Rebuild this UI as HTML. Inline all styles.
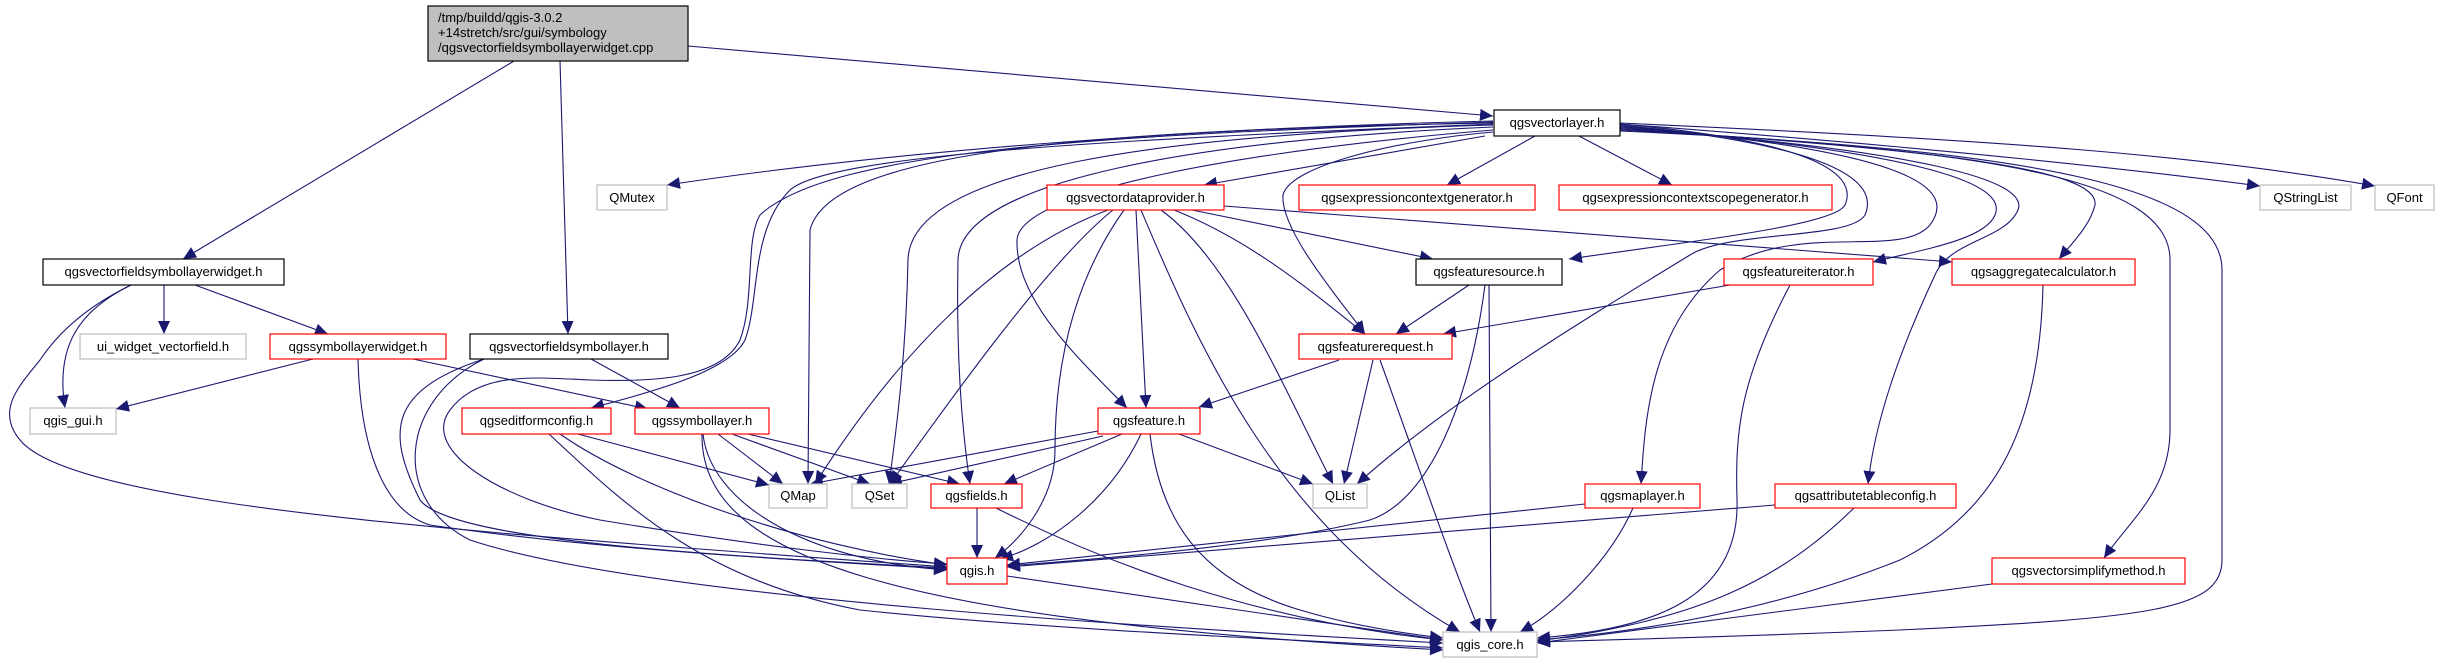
<!DOCTYPE html>
<html><head><meta charset="utf-8"><style>
html,body{margin:0;padding:0;background:#fff;}
svg{display:block;}
text{font-family:"Liberation Sans","DejaVu Sans",sans-serif;font-size:13px;fill:#000;}
.e{fill:none;stroke:#191970;stroke-width:1.1;marker-end:url(#a);}
</style></head><body>
<svg width="2446" height="664" viewBox="0 0 2446 664" xmlns="http://www.w3.org/2000/svg">
<defs><marker id="a" markerUnits="userSpaceOnUse" markerWidth="16" markerHeight="14" refX="13" refY="6" orient="auto"><path d="M0,0 L13,6 L0,12 Z" fill="#191970"/></marker></defs>
<rect width="2446" height="664" fill="#fff"/>
<g>
<path class="e" d="M514,61 L183,259"/>
<path class="e" d="M560,61 L568,334"/>
<path class="e" d="M688,46 L1493,116"/>
<path class="e" d="M164,285 L164,334"/>
<path class="e" d="M195,285 L328,334"/>
<path class="e" d="M131,285 C80,310 55,345 65,408"/>
<path class="e" d="M131,285 C90,305 60,330 40,360 C20,385 -5,410 20,440 C60,490 300,515 500,533 C700,550 850,560 947,567"/>
<path class="e" d="M313,359 L116,409"/>
<path class="e" d="M413,359 L648,409"/>
<path class="e" d="M358,359 C360,440 380,510 430,525 C600,550 800,560 947,569"/>
<path class="e" d="M591,359 L680,408"/>
<path class="e" d="M484,359 C390,390 385,430 420,500 C450,540 700,555 947,568"/>
<path class="e" d="M484,359 C400,400 390,500 470,540 C650,600 1200,630 1443,643"/>
<path class="e" d="M578,434 L769,485"/>
<path class="e" d="M560,434 C640,490 800,545 947,565"/>
<path class="e" d="M549,434 C620,500 700,580 860,610 C1050,630 1300,640 1443,648"/>
<path class="e" d="M718,434 L783,484"/>
<path class="e" d="M732,434 L870,484"/>
<path class="e" d="M748,434 L960,484"/>
<path class="e" d="M703,434 C710,500 800,560 947,570"/>
<path class="e" d="M702,434 C700,560 900,620 1443,650"/>
<path class="e" d="M977,508 L977,558"/>
<path class="e" d="M996,508 C1100,560 1250,620 1443,640"/>
<path class="e" d="M1007,576 L1443,640"/>
<path class="e" d="M1098,431 L810,484"/>
<path class="e" d="M1103,436 L889,484"/>
<path class="e" d="M1122,434 L1004,484"/>
<path class="e" d="M1179,434 L1313,484"/>
<path class="e" d="M1141,434 C1110,500 1050,545 1000,559"/>
<path class="e" d="M1150,434 C1160,520 1200,580 1300,610 C1350,625 1400,633 1443,638"/>
<path class="e" d="M1339,360 L1199,407"/>
<path class="e" d="M1373,360 L1344,484"/>
<path class="e" d="M1380,360 C1420,470 1450,560 1480,632"/>
<path class="e" d="M1469,285 L1396,334"/>
<path class="e" d="M1489,285 L1491,632"/>
<path class="e" d="M1485,285 C1470,400 1430,500 1370,520 C1250,550 1050,562 1007,566"/>
<path class="e" d="M1108,210 C1000,250 900,350 815,484"/>
<path class="e" d="M1113,210 C1050,260 950,400 890,484"/>
<path class="e" d="M1124,210 C1060,300 1055,400 1055,450 C1055,500 1020,540 995,558"/>
<path class="e" d="M1136,210 L1146,408"/>
<path class="e" d="M1141,210 C1200,350 1280,530 1460,632"/>
<path class="e" d="M1161,210 C1230,260 1280,380 1333,484"/>
<path class="e" d="M1174,210 C1250,240 1310,290 1365,334"/>
<path class="e" d="M1192,210 L1433,259"/>
<path class="e" d="M1224,206 L1952,262"/>
<path class="e" d="M1485,136 L1204,185"/>
<path class="e" d="M1535,136 L1447,185"/>
<path class="e" d="M1579,136 L1672,185"/>
<path class="e" d="M1493,121 C1200,128 900,150 667,185"/>
<path class="e" d="M1493,123 C1100,130 830,150 810,230 L808,484"/>
<path class="e" d="M1493,125 C1150,135 910,170 908,260 C906,360 895,440 889,484"/>
<path class="e" d="M1493,127 C1200,140 960,180 958,260 C956,360 962,430 970,484"/>
<path class="e" d="M1493,130 C1250,150 1020,190 1017,240 C1015,300 1080,360 1127,408"/>
<path class="e" d="M1493,132 C1400,140 1290,165 1283,195 C1280,230 1340,300 1365,334"/>
<path class="e" d="M1493,122 C1100,135 830,150 760,215 C745,240 755,300 740,340 C720,380 650,382 590,380 C540,378 480,370 450,410 C420,450 500,500 600,520 C750,545 880,560 947,564"/>
<path class="e" d="M1493,124 C1100,140 830,155 790,190 C750,230 760,300 745,340 C730,370 660,390 591,408"/>
<path class="e" d="M1620,124 C1800,140 1860,170 1845,205 C1835,225 1700,240 1569,259"/>
<path class="e" d="M1620,125 C1830,145 1880,180 1865,215 C1850,240 1730,230 1690,255 C1600,310 1450,400 1357,484"/>
<path class="e" d="M1620,126 C1900,150 1960,185 1930,225 C1900,260 1800,220 1720,270 C1650,330 1645,420 1641,484"/>
<path class="e" d="M1620,127 C1900,150 2010,180 1995,215 C1985,240 1920,250 1873,262"/>
<path class="e" d="M1620,128 C1920,150 2030,180 2018,210 C2005,240 1950,240 1935,275 C1900,350 1875,420 1868,484"/>
<path class="e" d="M1620,129 C1950,150 2100,170 2095,205 C2090,225 2075,240 2059,259"/>
<path class="e" d="M1620,130 C2000,150 2170,180 2170,260 L2170,430 C2170,490 2130,520 2104,558"/>
<path class="e" d="M1620,131 C2050,150 2222,190 2222,270 L2222,560 C2222,610 2150,618 1900,630 C1700,638 1600,640 1537,642"/>
<path class="e" d="M1620,124 C1900,145 2100,165 2260,186"/>
<path class="e" d="M1620,123 C2000,140 2200,155 2375,186"/>
<path class="e" d="M1730,285 L1443,334"/>
<path class="e" d="M1790,285 C1740,380 1735,430 1737,500 C1740,600 1650,630 1537,638"/>
<path class="e" d="M2043,285 C2040,420 2000,510 1900,560 C1750,620 1600,635 1537,640"/>
<path class="e" d="M1585,504 L1007,565"/>
<path class="e" d="M1633,508 C1610,560 1560,610 1520,632"/>
<path class="e" d="M1775,505 L1007,567"/>
<path class="e" d="M1854,508 C1780,580 1700,620 1537,641"/>
<path class="e" d="M1992,584 L1537,643"/>
</g>
<g stroke-width="1.2">
<rect x="428" y="6" width="260" height="55" fill="#bfbfbf" stroke="#000"/>
<rect x="43" y="259" width="241" height="26" fill="#fff" stroke="#000"/>
<rect x="80" y="334" width="166" height="25" fill="#fff" stroke="#bfbfbf"/>
<rect x="270" y="334" width="176" height="25" fill="#fff" stroke="#ff0000"/>
<rect x="470" y="334" width="198" height="25" fill="#fff" stroke="#000"/>
<rect x="30" y="408" width="86" height="26" fill="#fff" stroke="#bfbfbf"/>
<rect x="462" y="408" width="149" height="26" fill="#fff" stroke="#ff0000"/>
<rect x="635" y="408" width="134" height="26" fill="#fff" stroke="#ff0000"/>
<rect x="597" y="185" width="70" height="25" fill="#fff" stroke="#bfbfbf"/>
<rect x="769" y="484" width="58" height="24" fill="#fff" stroke="#bfbfbf"/>
<rect x="1494" y="110" width="126" height="26" fill="#fff" stroke="#000"/>
<rect x="1047" y="185" width="177" height="25" fill="#fff" stroke="#ff0000"/>
<rect x="1299" y="185" width="236" height="25" fill="#fff" stroke="#ff0000"/>
<rect x="1559" y="185" width="273" height="25" fill="#fff" stroke="#ff0000"/>
<rect x="1416" y="259" width="146" height="26" fill="#fff" stroke="#000"/>
<rect x="1299" y="334" width="153" height="25" fill="#fff" stroke="#ff0000"/>
<rect x="1098" y="408" width="102" height="26" fill="#fff" stroke="#ff0000"/>
<rect x="852" y="484" width="55" height="24" fill="#fff" stroke="#bfbfbf"/>
<rect x="931" y="484" width="91" height="24" fill="#fff" stroke="#ff0000"/>
<rect x="1313" y="484" width="54" height="24" fill="#fff" stroke="#bfbfbf"/>
<rect x="947" y="558" width="60" height="26" fill="#fff" stroke="#ff0000"/>
<rect x="1443" y="632" width="94" height="25" fill="#fff" stroke="#bfbfbf"/>
<rect x="1585" y="484" width="115" height="24" fill="#fff" stroke="#ff0000"/>
<rect x="1724" y="259" width="149" height="26" fill="#fff" stroke="#ff0000"/>
<rect x="1952" y="259" width="183" height="26" fill="#fff" stroke="#ff0000"/>
<rect x="1775" y="484" width="181" height="24" fill="#fff" stroke="#ff0000"/>
<rect x="1992" y="558" width="193" height="26" fill="#fff" stroke="#ff0000"/>
<rect x="2260" y="185" width="91" height="25" fill="#fff" stroke="#bfbfbf"/>
<rect x="2375" y="185" width="59" height="25" fill="#fff" stroke="#bfbfbf"/>
</g>
<g>
<text x="438" y="22">/tmp/buildd/qgis-3.0.2</text>
<text x="438" y="37">+14stretch/src/gui/symbology</text>
<text x="438" y="52">/qgsvectorfieldsymbollayerwidget.cpp</text>
</g>
<g text-anchor="middle">
<text x="163.5" y="276">qgsvectorfieldsymbollayerwidget.h</text>
<text x="163" y="351">ui_widget_vectorfield.h</text>
<text x="358" y="351">qgssymbollayerwidget.h</text>
<text x="569" y="351">qgsvectorfieldsymbollayer.h</text>
<text x="73" y="425">qgis_gui.h</text>
<text x="536.5" y="425">qgseditformconfig.h</text>
<text x="702" y="425">qgssymbollayer.h</text>
<text x="632" y="202">QMutex</text>
<text x="798" y="500">QMap</text>
<text x="1557" y="127">qgsvectorlayer.h</text>
<text x="1135.5" y="202">qgsvectordataprovider.h</text>
<text x="1417" y="202">qgsexpressioncontextgenerator.h</text>
<text x="1695.5" y="202">qgsexpressioncontextscopegenerator.h</text>
<text x="1489" y="276">qgsfeaturesource.h</text>
<text x="1375.5" y="351">qgsfeaturerequest.h</text>
<text x="1149" y="425">qgsfeature.h</text>
<text x="879.5" y="500">QSet</text>
<text x="976.5" y="500">qgsfields.h</text>
<text x="1340" y="500">QList</text>
<text x="977" y="575">qgis.h</text>
<text x="1490" y="649">qgis_core.h</text>
<text x="1642.5" y="500">qgsmaplayer.h</text>
<text x="1798.5" y="276">qgsfeatureiterator.h</text>
<text x="2043.5" y="276">qgsaggregatecalculator.h</text>
<text x="1865.5" y="500">qgsattributetableconfig.h</text>
<text x="2088.5" y="575">qgsvectorsimplifymethod.h</text>
<text x="2305.5" y="202">QStringList</text>
<text x="2404.5" y="202">QFont</text>
</g>
</svg>
</body></html>
